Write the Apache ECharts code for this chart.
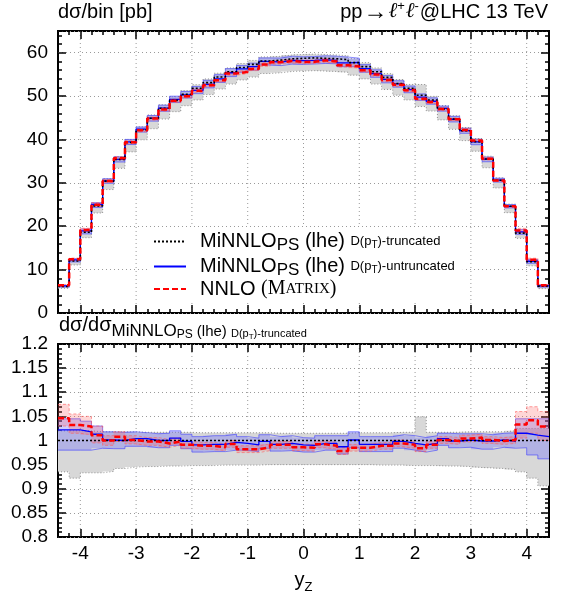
<!DOCTYPE html>
<html><head><meta charset="utf-8">
<script src="https://cdn.jsdelivr.net/npm/echarts@6/dist/echarts.min.js"></script>
<style>html,body{margin:0;padding:0;background:#fff}#c{width:572px;height:603px}</style>
</head><body><div id="c"></div>
<script>
// ---------- data ----------
const binEdges = [-4.4,-4.2,-4.0,-3.8,-3.6,-3.4,-3.2,-3.0,-2.8,-2.6,-2.4,-2.2,-2.0,-1.8,-1.6,-1.4,-1.2,-1.0,-0.8,-0.6,-0.4,-0.2,0,
  0.2,0.4,0.6,0.8,1.0,1.2,1.4,1.6,1.8,2.0,2.2,2.4,2.6,2.8,3.0,3.2,3.4,3.6,3.8,4.0,4.2,4.4];
const xTickValues = [-4,-3,-2,-1,0,1,2,3,4];

// MiNNLO_PS (lhe) D(pT)-truncated, d sigma / bin [pb]
const minnloTrunc = [6.1,12.0,18.6,24.7,30.4,35.4,39.3,42.2,44.9,47.2,49.0,50.4,51.8,53.1,54.4,55.6,56.6,57.3,58.1,58.3,58.6,58.7,
  58.8,58.7,58.6,58.4,57.7,56.8,55.6,54.3,52.9,51.8,50.2,49.1,47.0,44.7,42.0,39.5,35.5,30.6,24.6,18.4,11.8,6.2];
// scale band of truncated MiNNLO, relative to its central value
const truncBandUp = [1.02,1.02,1.02,1.018,1.018,1.018,1.018,1.017,1.017,1.017,1.017,
  1.017,1.016,1.016,1.016,1.016,1.016,1.016,1.016,1.015,1.015,1.015,
  1.015,1.015,1.015,1.015,1.016,1.016,1.016,1.016,1.017,1.017,1.049,
  1.017,1.017,1.017,1.018,1.018,1.018,1.018,1.02,1.025,1.025,1.025];
const truncBandDn = [0.935,0.922,0.933,0.933,0.936,0.942,0.945,0.946,0.946,0.947,0.947,
  0.948,0.948,0.948,0.949,0.949,0.949,0.949,0.95,0.95,0.95,0.95,
  0.95,0.95,0.95,0.95,0.95,0.95,0.949,0.949,0.949,0.948,0.948,
  0.948,0.947,0.947,0.946,0.944,0.943,0.942,0.94,0.935,0.922,0.906];
// MiNNLO_PS (lhe) D(pT)-untruncated, ratio to truncated
const untruncRatio = [1.022,1.022,1.018,1.013,1.001,1.000,1.004,1.004,1.000,1.000,1.005,
  0.998,0.991,0.992,0.992,0.996,0.994,0.991,0.998,0.992,0.994,0.991,
  0.990,0.994,0.994,0.987,1.001,0.992,0.992,0.992,0.998,0.994,0.991,
  0.994,1.004,0.999,1.001,0.999,0.999,1.001,0.999,1.015,1.011,1.008];
const untruncUp = [1.045,1.045,1.04,1.03,1.018,1.017,1.018,1.016,1.014,1.015,1.02,
  1.013,1.008,1.01,1.01,1.013,1.008,1.005,1.012,1.008,1.01,1.006,
  1.005,1.01,1.01,1.01,1.018,1.008,1.008,1.008,1.012,1.01,1.006,
  1.01,1.015,1.014,1.014,1.014,1.012,1.015,1.016,1.045,1.045,1.045];
const untruncDn = [0.98,0.98,0.98,0.984,0.983,0.983,0.988,0.988,0.985,0.985,0.99,
  0.983,0.976,0.977,0.977,0.98,0.98,0.977,0.984,0.978,0.979,0.976,
  0.976,0.98,0.98,0.972,0.985,0.977,0.977,0.977,0.984,0.98,0.976,
  0.98,0.99,0.985,0.986,0.982,0.982,0.986,0.984,0.985,0.97,0.962];
// NNLO (MATRIX), ratio to truncated
const nnloRatio = [1.046,1.032,1.029,1.011,1.000,1.008,1.001,0.998,0.998,0.994,0.998,
  0.991,0.989,0.989,0.986,0.993,0.982,0.982,0.986,0.991,0.991,0.986,
  0.985,0.992,0.989,0.978,0.985,0.985,0.989,0.989,0.994,0.991,0.984,
  0.991,1.001,0.999,1.004,1.006,1.001,0.999,1.001,1.033,1.042,1.029];
const nnloUp = [1.075,1.055,1.05,1.03,1.01,1.018,1.01,1.006,1.006,1.002,1.006,
  0.998,0.996,0.996,0.993,1.0,0.989,0.989,0.993,0.998,0.998,0.993,
  0.992,0.999,0.996,0.985,0.992,0.992,0.996,0.996,1.001,0.998,0.991,
  0.998,1.008,1.006,1.011,1.013,1.008,1.006,1.008,1.06,1.07,1.06];
const nnloDn = [1.03,1.015,1.012,0.995,0.99,0.998,0.993,0.99,0.99,0.986,0.99,
  0.984,0.982,0.982,0.979,0.986,0.975,0.975,0.979,0.984,0.984,0.979,
  0.978,0.985,0.982,0.971,0.978,0.978,0.982,0.982,0.987,0.984,0.977,
  0.984,0.994,0.992,0.997,0.999,0.994,0.992,0.994,1.005,1.015,1.0];

// ---------- helpers ----------
const fam = '"Liberation Sans", Arial, Helvetica, sans-serif';
const serif = '"Liberation Serif", "Times New Roman", serif';
const mul = (a, b) => a.map((v, i) => v * b[i]);
const div = (a, b) => a.map((v, i) => v / b[i]);
function steps(vals) {
  const pts = [];
  vals.forEach((v, i) => { pts.push([binEdges[i], v], [binEdges[i + 1], v]); });
  return pts;
}
function lineS(name, vals, xi, yi, style, z) {
  return { type: 'line', name, xAxisIndex: xi, yAxisIndex: yi, data: steps(vals), symbol: 'none',
    showSymbol: false, silent: true, z, lineStyle: style, itemStyle: { color: style.color }, clip: true };
}
function bandS(lo, hi, xi, yi, fill, edge, z) {
  const poly = {
    type: 'custom', xAxisIndex: xi, yAxisIndex: yi, z, silent: true, clip: true,
    data: [[binEdges[0], lo[0]]],
    renderItem(params, api) {
      const pts = [];
      hi.forEach((v, i) => { pts.push(api.coord([binEdges[i], v]), api.coord([binEdges[i + 1], v])); });
      for (let i = lo.length - 1; i >= 0; i--) { pts.push(api.coord([binEdges[i + 1], lo[i]]), api.coord([binEdges[i], lo[i]])); }
      return { type: 'polygon', shape: { points: pts }, style: { fill: fill } };
    }
  };
  return [poly, lineS('', hi, xi, yi, edge, z), lineS('', lo, xi, yi, edge, z)];
}
function vGrid(xi, yi) {
  return { type: 'custom', xAxisIndex: xi, yAxisIndex: yi, z: 0, silent: true,
    data: xTickValues.map(v => [v]), encode: { x: 0 },
    renderItem(params, api) {
      const x = api.coord([api.value(0), 1])[0];
      const cs = params.coordSys;
      return { type: 'line', shape: { x1: x, y1: cs.y, x2: x, y2: cs.y + cs.height },
        style: { stroke: '#9a9a9a', lineWidth: 1, lineDash: [1, 3] } };
    } };
}
const tickLine = { color: '#000', width: 1.5 };
function xAx(gi, pos, major, labels, extra) {
  const a = { type: 'value', gridIndex: gi, position: pos, min: -4.4, max: 4.4,
    axisLine: { show: false, onZero: false },
    axisTick: { show: true, inside: true, length: major ? 8 : 4, lineStyle: tickLine },
    axisLabel: { show: labels, fontSize: 19, color: '#000', fontFamily: fam, margin: 7 },
    splitLine: { show: false } };
  if (major) { a.axisTick.customValues = xTickValues; if (labels) a.axisLabel.customValues = xTickValues; }
  else { a.interval = 0.2; }
  return Object.assign(a, extra || {});
}
function yAx(gi, pos, min, max, interval, labels) {
  return { type: 'value', gridIndex: gi, position: pos, min, max, interval,
    axisLine: { show: false, onZero: false },
    axisTick: { show: true, inside: true, length: 8, lineStyle: tickLine },
    minorTick: { show: true, splitNumber: 5, length: 4, lineStyle: tickLine },
    axisLabel: { show: labels, fontSize: 19, color: '#000', fontFamily: fam, margin: 10, showMaxLabel: max === 65 ? false : true },
    splitLine: { show: labels, lineStyle: { color: '#9a9a9a', type: [1, 3], width: 1 } } };
}

const blackStyle = { color: '#000', width: 1.6, type: [2, 2] };
const blueStyle = { color: '#0000ff', width: 1.3, type: 'solid' };
const redStyle = { color: '#ff0000', width: 2.5, type: [6, 3] };
const greyEdge = { color: '#777', width: 0.8, type: [1, 2] };
const blueEdge = { color: 'rgba(60,60,255,0.75)', width: 0.8, type: 'solid' };
const redEdge = { color: 'rgba(255,90,90,0.75)', width: 0.8, type: [3, 2] };
const greyFill = '#d8d8d8';
const blueFill = 'rgba(100,100,255,0.32)';
const redFill = 'rgba(255,90,90,0.25)';

// top panel derived values
const untruncTop = mul(minnloTrunc, untruncRatio);
const nnloTop = mul(minnloTrunc, nnloRatio);
const ones = div(minnloTrunc, minnloTrunc);

const series = [
  vGrid(0, 0),
  ...bandS(mul(minnloTrunc, truncBandDn), mul(minnloTrunc, truncBandUp), 0, 0, greyFill, greyEdge, 1),
  ...bandS(mul(minnloTrunc, untruncDn), mul(minnloTrunc, untruncUp), 0, 0, blueFill, blueEdge, 2),
  ...bandS(mul(minnloTrunc, nnloDn), mul(minnloTrunc, nnloUp), 0, 0, redFill, redEdge, 3),
  lineS('untrunc', untruncTop, 0, 0, blueStyle, 4),
  lineS('trunc', minnloTrunc, 0, 0, blackStyle, 5),
  lineS('nnlo', nnloTop, 0, 0, redStyle, 6),
  vGrid(4, 2),
  ...bandS(truncBandDn, truncBandUp, 4, 2, greyFill, greyEdge, 1),
  ...bandS(untruncDn, untruncUp, 4, 2, blueFill, blueEdge, 2),
  ...bandS(nnloDn, nnloUp, 4, 2, redFill, redEdge, 3),
  lineS('untrunc_r', untruncRatio, 4, 2, blueStyle, 4),
  lineS('trunc_r', ones, 4, 2, blackStyle, 5),
  lineS('nnlo_r', nnloRatio, 4, 2, redStyle, 6)
];

const legendText = {
  trunc: '{m0|MiNNLO}{sub|PS}{m| (lhe) }{s|D(p}{ss|T}{s|)-truncated}',
  untrunc: '{m0|MiNNLO}{sub|PS}{m| (lhe) }{s|D(p}{ss|T}{s|)-untruncated}',
  nnlo: '{m0|NNLO }{ser|(M}{serS|ATRIX}{ser|)}'
};
const K = { fontFamily: fam, color: '#000' };

const option = {
  animation: false,
  backgroundColor: '#fff',
  grid: [
    { left: 58, top: 31, width: 491, height: 282, show: true, borderColor: '#000', borderWidth: 2, backgroundColor: 'transparent' },
    { left: 58, top: 344, width: 491, height: 193, show: true, borderColor: '#000', borderWidth: 2, backgroundColor: 'transparent' }
  ],
  title: [
    { text: 'dσ/bin [pb]', left: 58, top: 2, padding: 0, textStyle: { fontSize: 20, lineHeight: 20, fontWeight: 'normal', fontFamily: fam, color: '#000' } },
    { text: '{a|pp}{ar|→}{l|ℓ}{sup|+}{l|ℓ}{sup|-}{a|@LHC 13 TeV}', right: 24, top: 2, padding: 0,
      textStyle: { fontWeight: 'normal', fontFamily: fam, color: '#000',
        rich: {
          a: { ...K, fontSize: 20, lineHeight: 20 },
          ar: { ...K, fontSize: 24, lineHeight: 20, padding: [0, 1, 0, 1] },
          l: { color: '#000', fontFamily: '"DejaVu Serif", serif', fontStyle: 'italic', fontSize: 21, lineHeight: 20 },
          sup: { ...K, fontSize: 13, lineHeight: 6, padding: [0, 1, 12, 0] }
        } } },
    { text: '{a|dσ/dσ}{b|MiNNLO}{c|PS}{h| (lhe) }{d|D(p}{e|T}{d|)-truncated}', left: 59, top: 315, padding: 0,
      textStyle: { fontWeight: 'normal', fontFamily: fam, color: '#000',
        rich: {
          a: { ...K, fontSize: 20, lineHeight: 20 },
          b: { ...K, fontSize: 17, lineHeight: 4, padding: [12, 0, 0, 0] },
          c: { ...K, fontSize: 12, lineHeight: 4, padding: [19, 0, 0, 0] },
          h: { ...K, fontSize: 15, lineHeight: 4, padding: [13, 0, 0, 0] },
          d: { ...K, fontSize: 11, lineHeight: 4, padding: [17, 0, 0, 0] },
          e: { ...K, fontSize: 8, lineHeight: 4, padding: [24, 0, 0, 0] }
        } } }
  ],
  legend: {
    data: ['trunc', 'untrunc', 'nnlo'], orient: 'vertical', left: 148, top: 227,
    itemWidth: 32, itemHeight: 12, itemGap: 0, backgroundColor: '#fff', padding: [2, 8, 4, 5],
    selectedMode: false,
    itemStyle: { opacity: 0, color: 'rgba(0,0,0,0)', borderWidth: 0 },
    formatter: name => legendText[name],
    textStyle: { color: '#000', fontFamily: fam,
      rich: {
        m0: { ...K, fontSize: 20, lineHeight: 20, padding: [0, 0, 0, 9] },
        m: { ...K, fontSize: 20, lineHeight: 20 },
        sub: { ...K, fontSize: 17, lineHeight: 8, padding: [8, 0, 0, 0] },
        s: { ...K, fontSize: 13, lineHeight: 20 },
        ss: { ...K, fontSize: 10, lineHeight: 8, padding: [8, 0, 0, 0] },
        ser: { color: '#000', fontSize: 20, lineHeight: 20, fontFamily: serif },
        serS: { color: '#000', fontSize: 15, lineHeight: 20, fontFamily: serif }
      } }
  },
  xAxis: [
    xAx(0, 'bottom', true, false), xAx(0, 'top', true, false), xAx(0, 'bottom', false, false), xAx(0, 'top', false, false),
    xAx(1, 'bottom', true, true, { name: '{a|y}{b|Z}', nameLocation: 'middle', nameGap: 33,
      nameTextStyle: { rich: { a: { ...K, fontSize: 20, lineHeight: 20 },
                               b: { ...K, fontSize: 13, lineHeight: 4, padding: [15, 0, 0, 0] } } } }),
    xAx(1, 'top', true, false), xAx(1, 'bottom', false, false), xAx(1, 'top', false, false)
  ],
  yAxis: [
    yAx(0, 'left', 0, 65, 10, true), yAx(0, 'right', 0, 65, 10, false),
    yAx(1, 'left', 0.8, 1.2, 0.05, true), yAx(1, 'right', 0.8, 1.2, 0.05, false)
  ],
  series
};
const chart = echarts.init(document.getElementById('c'), null, { renderer: 'canvas' });
chart.setOption(option);
</script></body></html>
